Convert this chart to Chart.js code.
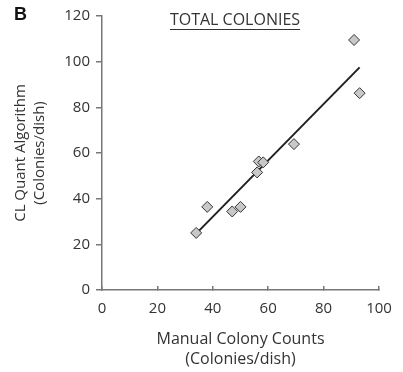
<!DOCTYPE html>
<html>
<head>
<meta charset="utf-8">
<script src="https://cdn.jsdelivr.net/npm/chart.js@4.4.1/dist/chart.umd.min.js"></script>
<style>
    html, body { margin: 0; padding: 0; background: #fff; }
    #wrap { width: 403px; height: 372px; }
</style>
</head>
<body>
<div id="wrap"><canvas id="chart" width="403" height="372"></canvas></div>
<script>
// -----------------------------
// DATA
// -----------------------------
const manualCounts = [34, 38, 47, 50, 56, 56.6, 58.2, 69.3, 91, 93];
const algorithmCounts = [25, 36.4, 34.4, 36.4, 51.5, 56.3, 55.9, 63.9, 109.5, 86.2];

// regression line end points
const fitX = [34, 93];
const fitY = [24.7, 97.5];

const xTicks = [0, 20, 40, 60, 80, 100];
const yTicks = [0, 20, 40, 60, 80, 100, 120];

const panelLabel = "B";
const plotTitle = "TOTAL COLONIES";
const xTitle = ["Manual Colony Counts", "(Colonies/dish)"];
const yTitle = ["CL Quant Algorithm", "(Colonies/dish)"];

// -----------------------------
// STYLE
// -----------------------------
const TEXT = "#333333";
const AXIS = "#777777";
Chart.defaults.font.family = "'Open Sans', sans-serif";
Chart.defaults.color = TEXT;

// title + panel letter drawn on top
const decorations = {
    id: "decorations",
    afterDraw(chart) {
        const ctx = chart.ctx;
        const area = chart.chartArea;
        ctx.save();
        ctx.fillStyle = "#111";
        ctx.font = "bold 18px 'Liberation Sans', Arial, sans-serif";
        ctx.textAlign = "left";
        ctx.textBaseline = "alphabetic";
        ctx.fillText(panelLabel, 14, 20);

        ctx.fillStyle = TEXT;
        ctx.font = "16px 'Open Sans', sans-serif";
        ctx.textAlign = "center";
        const cx = 235;
        ctx.fillText(plotTitle, cx, area.top + 9);
        const w = ctx.measureText(plotTitle).width;
        ctx.strokeStyle = TEXT;
        ctx.lineWidth = 1;
        ctx.beginPath();
        ctx.moveTo(cx - w / 2, area.top + 13.5);
        ctx.lineTo(cx + w / 2, area.top + 13.5);
        ctx.stroke();
        ctx.restore();
    }
};

const points = manualCounts.map((x, i) => ({ x, y: algorithmCounts[i] }));
const fitLine = fitX.map((x, i) => ({ x, y: fitY[i] }));

new Chart(document.getElementById("chart").getContext("2d"), {
    type: "scatter",
    data: {
        datasets: [
            {
                label: "fit",
                data: fitLine,
                showLine: true,
                borderColor: "#231f20",
                borderWidth: 2,
                pointRadius: 0,
                order: 2
            },
            {
                label: "colonies",
                data: points,
                pointStyle: "rectRot",
                pointRadius: 5.5,
                backgroundColor: "#c8c8c8",
                borderColor: "#333333",
                borderWidth: 1,
                order: 1
            }
        ]
    },
    options: {
        responsive: false,
        animation: false,
        layout: { padding: { top: 16, right: 24, left: 0, bottom: 0 } },
        plugins: {
            legend: { display: false },
            tooltip: { enabled: false }
        },
        scales: {
            x: {
                type: "linear",
                min: 0,
                max: 100,
                afterBuildTicks: (axis) => { axis.ticks = xTicks.map(v => ({ value: v })); },
                afterFit: (axis) => {
                    axis.height = 82;
                    axis.paddingLeft = 0;
                    axis.paddingRight = 0;
                },
                border: { color: AXIS, width: 1.5 },
                grid: { drawOnChartArea: false, color: AXIS, tickLength: -4, lineWidth: 1.5 },
                ticks: { color: TEXT, font: { size: 15 }, padding: 14 },
                title: {
                    display: true,
                    text: xTitle,
                    color: TEXT,
                    font: { size: 16, lineHeight: 1.25 },
                    padding: { top: 0, bottom: 3 }
                }
            },
            y: {
                type: "linear",
                min: 0,
                max: 120,
                afterBuildTicks: (axis) => { axis.ticks = yTicks.map(v => ({ value: v })); },
                afterFit: (axis) => { axis.width = 102; },
                border: { color: AXIS, width: 1.5 },
                grid: { drawOnChartArea: false, color: AXIS, tickLength: 6, lineWidth: 1.5 },
                ticks: { color: TEXT, font: { size: 15 }, padding: 6 },
                title: {
                    display: true,
                    text: yTitle,
                    color: TEXT,
                    font: { size: 15, lineHeight: 1.27 },
                    padding: { top: 11.5, bottom: 0 }
                }
            }
        }
    },
    plugins: [decorations]
});
</script>
</body>
</html>
